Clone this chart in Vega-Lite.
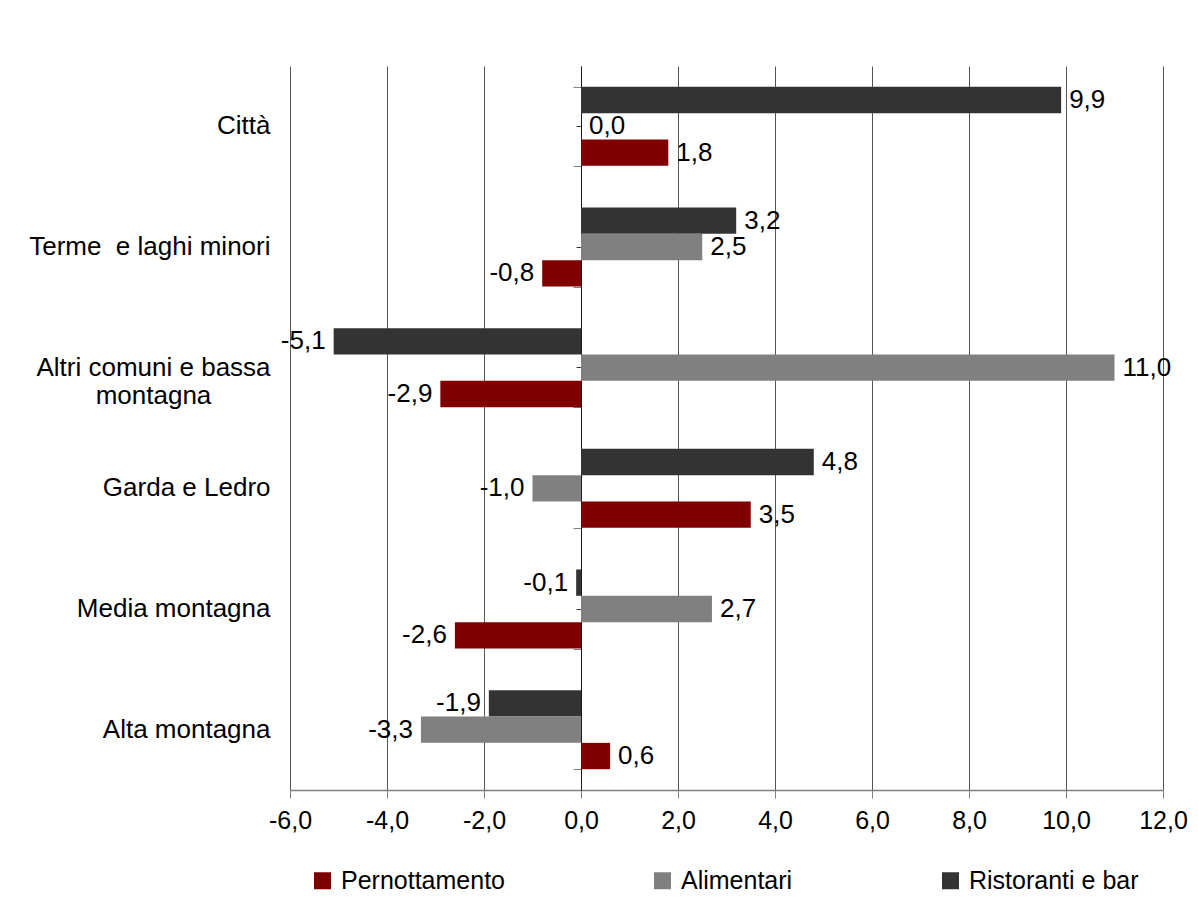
{
  "$schema": "https://vega.github.io/schema/vega-lite/v6.json",
  "width": 873,
  "height": 724,
  "autosize": {"type": "none"},
  "padding": {"left": 290, "top": 66, "right": 35, "bottom": 128},
  "background": "white",
  "config": {
    "font": "Liberation Sans",
    "locale": {"number": {"decimal": ",", "thousands": ".", "grouping": [3], "currency": ["", " €"], "minus": "-"}},
    "view": {"stroke": null}
  },
  "data": {
    "values": [
      {"area": "Città\u00a0", "serie": "Ristoranti e bar", "value": 9.9},
      {"area": "Città\u00a0", "serie": "Alimentari", "value": 0.0},
      {"area": "Città\u00a0", "serie": "Pernottamento", "value": 1.8},
      {"area": "Terme \u00a0e laghi minori", "serie": "Ristoranti e bar", "value": 3.2},
      {"area": "Terme \u00a0e laghi minori", "serie": "Alimentari", "value": 2.5},
      {"area": "Terme \u00a0e laghi minori", "serie": "Pernottamento", "value": -0.8},
      {"area": "Altri comuni e bassa montagna", "serie": "Ristoranti e bar", "value": -5.1},
      {"area": "Altri comuni e bassa montagna", "serie": "Alimentari", "value": 11.0},
      {"area": "Altri comuni e bassa montagna", "serie": "Pernottamento", "value": -2.9},
      {"area": "Garda e Ledro", "serie": "Ristoranti e bar", "value": 4.8},
      {"area": "Garda e Ledro", "serie": "Alimentari", "value": -1.0},
      {"area": "Garda e Ledro", "serie": "Pernottamento", "value": 3.5},
      {"area": "Media montagna", "serie": "Ristoranti e bar", "value": -0.1},
      {"area": "Media montagna", "serie": "Alimentari", "value": 2.7},
      {"area": "Media montagna", "serie": "Pernottamento", "value": -2.6},
      {"area": "Alta montagna", "serie": "Ristoranti e bar", "value": -1.9},
      {"area": "Alta montagna", "serie": "Alimentari", "value": -3.3},
      {"area": "Alta montagna", "serie": "Pernottamento", "value": 0.6}
    ]
  },
  "encoding": {
    "x": {
      "field": "value",
      "type": "quantitative",
      "scale": {"domain": [-6, 12], "nice": false, "zero": false},
      "axis": {
        "orient": "bottom",
        "title": null,
        "values": [-6, -4, -2, 0, 2, 4, 6, 8, 10, 12],
        "format": ".1f",
        "grid": true,
        "gridColor": "#555555",
        "gridWidth": 1,
        "domainColor": "#808080",
        "domainWidth": 1.5,
        "tickColor": "#808080",
        "tickSize": 8,
        "labelFontSize": 25,
        "labelColor": "#000000",
        "labelPadding": 10,
        "labelFlush": false,
        "labelOverlap": false
      }
    },
    "yOffset": {
      "field": "serie",
      "type": "nominal",
      "sort": ["Ristoranti e bar", "Alimentari", "Pernottamento"],
      "scale": {"paddingInner": 0, "paddingOuter": 0}
    }
  },
  "layer": [
    {
      "mark": {"type": "bar"},
      "encoding": {
        "y": {
          "field": "area",
          "type": "nominal",
          "sort": ["Città\u00a0", "Terme \u00a0e laghi minori", "Altri comuni e bassa montagna", "Garda e Ledro", "Media montagna", "Alta montagna"],
          "scale": {"paddingInner": 0.345, "paddingOuter": 0.1725},
          "axis": {
            "orient": "left",
            "title": null,
            "domain": false,
            "ticks": false,
            "grid": false,
            "labelFontSize": 26,
            "labelColor": "#000000",
            "labelLimit": 500,
            "labelExpr": "datum.value === 'Altri comuni e bassa montagna' ? ['Altri comuni e bassa', 'montagna'] : datum.value",
            "labelAlign": {"condition": {"test": "datum.value === 'Altri comuni e bassa montagna'", "value": "center"}, "value": "right"},
            "labelPadding": {"condition": {"test": "datum.value === 'Altri comuni e bassa montagna'", "value": 137}, "value": 20}
          }
        },
        "color": {
          "field": "serie",
          "type": "nominal",
          "scale": {"domain": ["Pernottamento", "Alimentari", "Ristoranti e bar"], "range": ["#800000", "#808080", "#333333"]},
          "legend": {
            "orient": "none",
            "legendX": 20,
            "legendY": 802,
            "direction": "horizontal",
            "title": null,
            "symbolType": "square",
            "symbolSize": 289,
            "symbolStrokeWidth": 0,
            "symbolOpacity": 1,
            "labelFontSize": 25,
            "labelColor": "#000000",
            "labelOffset": 6,
            "labelLimit": 400,
            "columnPadding": 145,
            "gridAlign": "each"
          }
        }
      }
    },
    {
      "mark": {
        "type": "text",
        "fontSize": 26,
        "color": "#000000",
        "baseline": "middle",
        "align": {"expr": "datum.value < 0 ? 'right' : 'left'"},
        "dx": {"expr": "datum.value < 0 ? -8 : 8"}
      },
      "encoding": {
        "text": {"field": "value", "type": "quantitative", "format": ".1f"},
        "y": {
          "field": "area",
          "type": "nominal",
          "sort": ["Città\u00a0", "Terme \u00a0e laghi minori", "Altri comuni e bassa montagna", "Garda e Ledro", "Media montagna", "Alta montagna"],
          "axis": {
            "orient": "left",
            "offset": -291,
            "title": null,
            "labels": false,
            "domain": true,
            "domainColor": "#1a1a1a",
            "ticks": true,
            "tickBand": "extent",
            "tickSize": 8,
            "tickColor": "#808080",
            "grid": false
          }
        }
      }
    },
    {
      "mark": {"type": "point", "opacity": 0},
      "encoding": {
        "y": {
          "field": "area",
          "type": "nominal",
          "sort": ["Città\u00a0", "Terme \u00a0e laghi minori", "Altri comuni e bassa montagna", "Garda e Ledro", "Media montagna", "Alta montagna"],
          "axis": {
            "orient": "left",
            "offset": -291,
            "title": null,
            "labels": false,
            "domain": false,
            "ticks": true,
            "tickBand": "center",
            "tickSize": 5,
            "tickColor": "#333333",
            "grid": false
          }
        }
      }
    }
  ],
  "resolve": {"axis": {"y": "independent"}}
}
